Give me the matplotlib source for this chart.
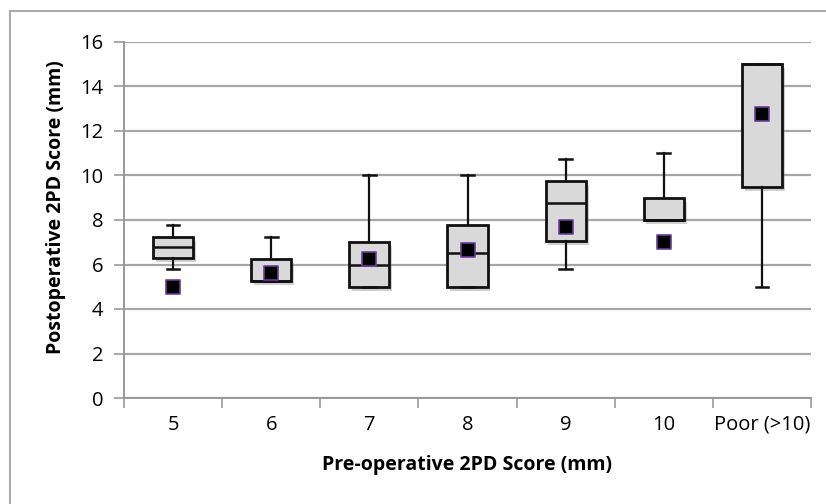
import matplotlib.pyplot as plt
import matplotlib.patheffects as pe
from matplotlib.lines import Line2D

categories = ["5", "6", "7", "8", "9", "10", "Poor (>10)"]
whisker_low = [5.8, 5.25, 5.0, 5.0, 5.8, 8.0, 5.0]
quartile_1 = [6.28, 5.25, 5.0, 5.0, 7.05, 8.0, 9.5]
medians = [6.77, 5.25, 6.0, 6.5, 8.78, 8.0, 15.0]
quartile_3 = [7.25, 6.25, 7.0, 7.78, 9.77, 9.0, 15.0]
whisker_high = [7.76, 7.25, 10.0, 10.0, 10.76, 11.0, 15.0]
means = [5.0, 5.6, 6.23, 6.65, 7.67, 7.03, 12.75]

plt.rcParams['font.family'] = ['Open Sans', 'DejaVu Sans']

fig = plt.figure(figsize=(8.26, 5.04), dpi=100)
ax = fig.add_axes([124 / 826, 1 - 398 / 504, (811 - 124) / 826, (398 - 42) / 504])

stats = []
for i in range(len(categories)):
    stats.append({
        "whislo": whisker_low[i], "q1": quartile_1[i], "med": medians[i],
        "q3": quartile_3[i], "whishi": whisker_high[i], "fliers": [],
    })

shadow = [pe.SimplePatchShadow(offset=(2, -3), alpha=0.35, shadow_rgbFace="#777777"), pe.Normal()]
bp = ax.bxp(stats, positions=range(len(categories)), widths=0.41, patch_artist=True,
            showfliers=False, manage_ticks=False,
            boxprops=dict(facecolor="#d9d9d9", edgecolor="#111111", linewidth=2),
            medianprops=dict(color="#111111", linewidth=1.8),
            whiskerprops=dict(color="#111111", linewidth=1.6),
            capprops=dict(color="#111111", linewidth=1.8),
            capwidths=0.13)
for box in bp["boxes"]:
    box.set_path_effects(shadow)
    box.set_zorder(3)
for k in ("medians", "whiskers", "caps"):
    for ln in bp[k]:
        ln.set_zorder(4)

ax.scatter(range(len(categories)), means, marker="s", s=90, color="black",
           edgecolors="#6a3d9a", linewidths=1.2, zorder=5)

ax.set_xlim(-0.5, len(categories) - 0.5)
ax.set_ylim(0, 16)
ax.set_yticks(range(0, 17, 2))
ax.set_xticks(range(len(categories)))
ax.set_xticklabels(categories)
ax.set_xticks([i - 0.5 for i in range(len(categories) + 1)], minor=True)
ax.tick_params(axis="x", which="major", length=0, pad=12, labelsize=14.5)
ax.tick_params(axis="x", which="minor", length=7, color="#999999", width=1.2, direction="out")
ax.tick_params(axis="y", length=7, color="#999999", width=1.2, labelsize=14.5, pad=8)

ax.grid(axis="y", color="#a6a6a6", linewidth=1.6, zorder=0)
ax.set_axisbelow(True)
for side in ("top", "right"):
    ax.spines[side].set_visible(False)
for side in ("left", "bottom"):
    ax.spines[side].set_color("#999999")
    ax.spines[side].set_linewidth(1.4)

ax.set_xlabel("Pre-operative 2PD Score (mm)", fontsize=14, fontweight="bold")
ax.set_ylabel("Postoperative 2PD Score (mm)", fontsize=14, fontweight="bold")
ax.xaxis.set_label_coords(0.5, -0.188, transform=ax.transAxes)
ax.yaxis.set_label_coords(-0.099, 0.535, transform=ax.transAxes)
ax.xaxis.label.set_va("center")
ax.yaxis.label.set_va("center")

# chart area border (cropped at right and bottom)
fig.add_artist(Line2D([10 / 826, 1], [1 - 11 / 504] * 2, color="#aaaaaa", linewidth=1.5))
fig.add_artist(Line2D([10 / 826] * 2, [0, 1 - 11 / 504], color="#aaaaaa", linewidth=1.5))

fig.savefig("out.png", dpi=100)
